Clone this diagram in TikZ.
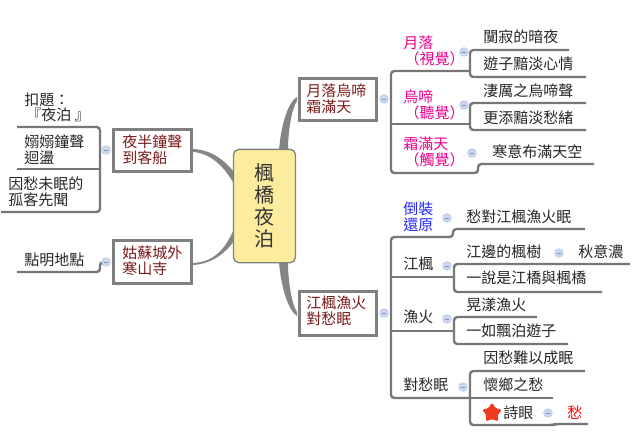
\documentclass[tikz,border=0pt]{standalone}
\usepackage{fontspec}
\setmainfont{Noto Sans CJK TC}
\usetikzlibrary{shapes.geometric}
\definecolor{linegray}{HTML}{777777}
\definecolor{boxgray}{HTML}{808080}
\definecolor{maroonT}{HTML}{7A1A1A}
\definecolor{centerfill}{HTML}{FBEC9E}
\definecolor{minusfill}{HTML}{C9D8F0}
\definecolor{minusdraw}{HTML}{7F93B5}
\definecolor{starfill}{HTML}{F03A1E}
\tikzset{
  txt/.style={anchor=west,inner sep=0pt,align=left,font=\fontsize{11.25}{12}\selectfont,text=black!85},
  topicbox/.style={draw=boxgray,line width=2.3pt,fill=white,inner sep=0pt,minimum width=58pt,minimum height=32pt},
  boxtxt/.style={txt,text=maroonT},
  magtxt/.style={txt,text=magenta},
  bluetxt/.style={txt,text=blue!85!white},
  redtxt/.style={txt,text=red},
  conn/.style={draw=linegray,line width=1.8pt,rounded corners=2.5pt},
  thick curve/.style={fill=linegray!90,draw=none},
  minusicon/.style={circle,draw=minusfill!80!minusdraw,line width=0.4pt,fill=minusfill,minimum size=6.6pt,inner sep=0pt,
    path picture={\draw[minusdraw,line width=0.5pt] ([xshift=-1.8pt]path picture bounding box.center) -- ([xshift=1.8pt]path picture bounding box.center);}},
}
\begin{document}
\begin{tikzpicture}[x=0.75pt,y=-0.75pt]
\useasboundingbox (0,0) rectangle (640,444);
\fill[white] (0,0) rectangle (640,444);

% tapered main branches
\fill[thick curve] (193,149) .. controls (212,150) and (224,160) .. (234,172) -- (234,184) .. controls (224,166) and (210,153) .. (193,152) -- cycle;
\fill[thick curve] (193,263) .. controls (212,262) and (224,252) .. (234,229) -- (234,241) .. controls (224,255) and (210,264) .. (193,265) -- cycle;
\fill[thick curve] (279,150) .. controls (281,125) and (288,102) .. (297,97) -- (297,101) .. controls (292,108) and (288,130) .. (288,150) -- cycle;
\fill[thick curve] (279,262) .. controls (281,287) and (288,310) .. (297,316) -- (297,312) .. controls (292,305) and (288,282) .. (288,262) -- cycle;

% centre
\node[draw=boxgray,line width=1pt,fill=centerfill,rounded corners=4pt,minimum width=46.5pt,minimum height=85pt,inner sep=0pt] (root) at (264.5,206) {};
\node[inner sep=0pt,align=center,font=\fontsize{15}{16.6}\selectfont,text=black!80] (rootT) at (264,206) {楓\\橋\\夜\\泊};

% level 1 boxes
\node[topicbox] (night) at (152.5,150.5) {};
\node[boxtxt] (nightT) at (122,150) {夜半鐘聲\\到客船};
\node[topicbox] (temple) at (152.5,262) {};
\node[boxtxt] (templeT) at (122,261) {姑蘇城外\\寒山寺};
\node[topicbox] (moon) at (338,99.5) {};
\node[boxtxt] (moonT) at (306,99) {月落烏啼\\霜滿天};
\node[topicbox,minimum height=33.5pt] (maple) at (338,313.5) {};
\node[boxtxt] (mapleT) at (306,311) {江楓漁火\\對愁眠};

% left text
\node[txt] (ti) at (24,100) {扣題：};
\node[txt] (tj) at (26,115) {『夜泊 』};
\node[txt] (t1) at (24,150) {嫋嫋鐘聲\\迴盪};
\node[txt] (t2) at (8,192) {因愁未眠的\\孤客先聞};
\node[txt] (t3) at (24,260) {點明地點};

% upper right labels
\node[magtxt] (m1) at (403,51) {月落\\\hspace*{1pt}（視覺）};
\node[magtxt] (m2) at (403,105) {烏啼\\\hspace*{1pt}（聽覺）};
\node[magtxt] (m3) at (403,152) {霜滿天\\\hspace*{1pt}（觸覺）};
\node[txt] (a1) at (483,37) {闃寂的暗夜};
\node[txt] (a2) at (483,64) {遊子黯淡心情};
\node[txt] (a3) at (483,91) {淒厲之烏啼聲};
\node[txt] (a4) at (483,118) {更添黯淡愁緒};
\node[txt] (a5) at (492,152) {寒意布滿天空};

% lower right labels
\node[bluetxt] (b1) at (403,217) {倒裝\\還原};
\node[txt] (b2) at (403,264) {江楓};
\node[txt] (b3) at (403,317) {漁火};
\node[txt] (b4) at (403,385) {對愁眠};
\node[txt] (c1) at (466,217) {愁對江楓漁火眠};
\node[txt] (c2) at (466,252) {江邊的楓樹};
\node[txt] (c3) at (578,252) {秋意濃};
\node[txt] (c4) at (466,278) {一說是江橋與楓橋};
\node[txt] (c5) at (466,305) {晃漾漁火};
\node[txt] (c6) at (466,331) {一如飄泊遊子};
\node[txt] (c7) at (483,358) {因愁難以成眠};
\node[txt] (c8) at (483,385) {懷鄉之愁};
\node[star,star points=5,star point ratio=1.9,draw=starfill,line width=0.6pt,fill=starfill,rounded corners=1.5pt,minimum size=15pt,inner sep=0pt] (st) at (492,413) {};
\node[txt] (c9) at (503,413) {詩眼};
\node[redtxt] (c10) at (567,413) {愁};

% free ends of the connectors
\coordinate (L1a) at (17,127);  \coordinate (L1b) at (17,169);  \coordinate (L1c) at (1,212);
\coordinate (L2a) at (17,272);
\coordinate (T1) at (391,71);   \coordinate (T2) at (391,173);
\coordinate (E1) at (569,50);   \coordinate (E2) at (586,77);
\coordinate (E3) at (586,103);  \coordinate (E4) at (586,130);  \coordinate (E5) at (594,164);
\coordinate (J1) at (470,71);   \coordinate (J2) at (470,124);  \coordinate (J3) at (478,173);
\coordinate (U1) at (391,237);  \coordinate (U2) at (391,398);
\coordinate (V1) at (585,229);  \coordinate (V2) at (630,264);  \coordinate (V3) at (602,292);
\coordinate (V4) at (537,317);  \coordinate (V5) at (568,344);
\coordinate (V6) at (585,371);  \coordinate (V7) at (553,398);  \coordinate (V8) at (553,425);
\coordinate (V9) at (588,424);
\coordinate (K1) at (454,277);  \coordinate (K2) at (454,331);  \coordinate (K3) at (470,398);
\coordinate (K0) at (453,237);

% connectors: left
\draw[conn] (L1a) -- (100,127) -- (100,212) -- (L1c);
\draw[conn] (L1b) -- (100,169);
\draw[conn] (L2a) -- (100,272) -- (100,262) -- (106,262);

% connectors: upper right
\draw[conn] (J1) -- (T1) -- (T2) -- (J3) -- (478,164) -- (E5);
\draw[conn] (E1) -- (470,50) -- (470,77) -- (E2);
\draw[conn] (391,124) -- (J2);
\draw[conn] (E3) -- (470,103) -- (470,130) -- (E4);

% connectors: lower right
\draw[conn] (V1) -- (453,229) -- (K0) -- (U1) -- (U2) -- (K3);
\draw[conn] (391,277) -- (K1);
\draw[conn] (V2) -- (454,264) -- (454,292) -- (V3);
\draw[conn] (391,331) -- (K2);
\draw[conn] (V4) -- (454,317) -- (454,344) -- (V5);
\draw[conn] (K3) -- (V7);
\draw[conn] (V6) -- (470,371) -- (470,425) -- (V8) -- (556,424) -- (V9);

% collapse icons
\node[minusicon] (n1) at (106,150) {};
\node[minusicon] (n2) at (106,262) {};
\node[minusicon] (n3) at (384,99) {};
\node[minusicon] (n4) at (384,313) {};
\node[minusicon] (n5) at (464,52) {};
\node[minusicon] (n6) at (464,105) {};
\node[minusicon] (n7) at (472,153) {};
\node[minusicon] (n8) at (447,218) {};
\node[minusicon] (n9) at (447,266) {};
\node[minusicon] (n10) at (447,319) {};
\node[minusicon] (n11) at (463,387) {};
\node[minusicon] (n12) at (559,253) {};
\node[minusicon] (n13) at (548,413) {};
\end{tikzpicture}
\end{document}
